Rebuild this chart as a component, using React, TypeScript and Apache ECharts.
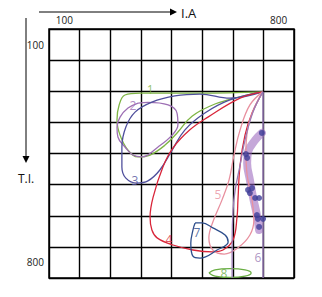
import React, { useEffect, useRef } from "react";
import * as echarts from "echarts";

// Tick labels (shown only at both ends, as in the reference)
const xTickLabels = ["100", "200", "300", "400", "500", "600", "700", "800"];
const yTickLabels = ["100", "200", "300", "400", "500", "600", "700", "800"];
const shownTickIndex = [0, 7];

// Loops, as [I.A, T.I.] points
const loop1 = [[748, 252], [543, 256], [347, 256], [298, 262], [279, 294], [272, 342], [282, 391], [308, 439], [341, 461], [380, 455], [429, 423], [471, 381], [517, 330], [592, 291], [674, 268], [748, 252]];
const loop2 = [[341, 288], [373, 286], [439, 294], [468, 320], [471, 358], [452, 391], [406, 429], [354, 461], [324, 455], [298, 429], [275, 397], [272, 365], [282, 333], [308, 304], [341, 288]];
const loop3 = [[748, 252], [641, 272], [543, 259], [461, 265], [386, 285], [331, 317], [301, 365], [288, 429], [288, 493], [301, 529], [337, 545], [373, 538], [412, 503], [452, 439], [494, 374], [559, 320], [641, 278], [748, 252]];
const loop4 = [[748, 252], [674, 272], [569, 333], [510, 374], [455, 432], [422, 493], [390, 590], [380, 654], [386, 696], [403, 721], [455, 744], [520, 760], [585, 766], [618, 760], [651, 728], [664, 654], [667, 599], [674, 487], [690, 391], [713, 320], [748, 252]];
const loop5 = [[748, 252], [706, 294], [674, 374], [654, 455], [638, 535], [615, 599], [585, 670], [572, 721], [585, 760], [622, 773], [667, 753], [706, 712], [719, 664], [713, 599], [697, 519], [693, 439], [706, 342], [748, 252]];
const edge6Left = [[748, 252], [716, 317], [690, 407], [674, 487], [658, 567], [651, 632], [648, 728], [648, 850]];
const edge6Right = [[749, 252], [749, 850]];
const band6 = [[745, 384], [723, 407], [700, 445], [697, 481], [706, 535], [716, 590], [729, 648], [736, 696]];
const dots6 = [[745, 384], [693, 452], [697, 464], [700, 567], [713, 561], [706, 577], [723, 593], [736, 593], [729, 648], [732, 660], [749, 660], [736, 686]];
const loop7 = [[527, 673], [550, 673], [585, 689], [625, 712], [635, 734], [599, 760], [543, 786], [520, 780], [513, 738], [520, 696], [527, 673]];
const loop8 = [[572, 834], [592, 824], [641, 820], [690, 824], [710, 834], [690, 844], [641, 848], [592, 844], [572, 834]];

const loopNames = ["1", "2", "3", "4", "5", "6", "7", "8"];
const labelPositions = [[380, 243], [324, 297], [331, 538], [442, 725], [602, 583], [732, 783], [533, 705], [621, 834]];
const loopColors = ["#7fb545", "#9d6fb4", "#4f4f9c", "#d9263a", "#e8909f", "#9a7bb5", "#2d4e8c", "#6aae44"];

export default function App() {
  const ref = useRef<HTMLDivElement>(null);
  useEffect(() => {
    if (!ref.current) return;
    const chart = echarts.init(ref.current, undefined, { renderer: "svg" });
    const font = "'Open Sans', sans-serif";
    const lineSeries = (data: number[][], color: string, width = 1.3, smooth: number | boolean = 0.4) => ({
      type: "line",
      data,
      smooth,
      showSymbol: false,
      symbol: "none",
      lineStyle: { color, width },
      silent: true,
      z: 3,
    });
    const loops = [loop1, loop2, loop3, loop4, loop5, null, loop7, loop8];
    const series: any[] = [];
    loops.forEach((d, i) => {
      if (d) series.push(lineSeries(d, loopColors[i]));
    });
    series.push({
      type: "line",
      data: band6,
      smooth: 0.4,
      symbol: "none",
      lineStyle: { color: "rgba(150,95,185,0.55)", width: 8, cap: "round", join: "round" },
      z: 2,
    });
    series.push(lineSeries(edge6Left, "#9a7bb5", 1.3));
    series.push(lineSeries(edge6Right, "#8f72ad", 1.5, false));
    series.push({
      type: "scatter",
      data: dots6,
      symbolSize: 6,
      itemStyle: { color: "#3f3f99" },
      z: 4,
    });
    series.push({
      type: "scatter",
      data: labelPositions.map((p, i) => ({ value: p, name: loopNames[i] })),
      symbolSize: 0,
      z: 5,
      label: {
        show: true,
        position: "inside",
        formatter: (p: any) => p.name,
        fontFamily: font,
        fontSize: 12,
        color: (p: any) => loopColors[p.dataIndex],
      },
    });
    // label colours per item
    series[series.length - 1].data = labelPositions.map((p, i) => ({
      value: p,
      name: loopNames[i],
      label: { color: loopColors[i] },
    }));

    chart.setOption({
      animation: false,
      grid: { left: 49, top: 29, right: 28, bottom: 19, show: true, borderColor: "#000", borderWidth: 1.5 },
      xAxis: [
        {
          type: "value",
          min: 50,
          max: 850,
          interval: 100,
          position: "top",
          axisLine: { show: false },
          axisTick: { show: false },
          axisLabel: { show: false },
          splitLine: { show: true, lineStyle: { color: "#000", width: 1.4 } },
        },
        {
          type: "category",
          data: xTickLabels,
          position: "top",
          axisLine: { show: false },
          axisTick: { show: false },
          splitLine: { show: false },
          axisLabel: {
            interval: (i: number) => shownTickIndex.includes(i),
            margin: 4,
            fontFamily: font,
            fontSize: 10,
            color: "#222",
          },
        },
      ],
      yAxis: [
        {
          type: "value",
          inverse: true,
          min: 50,
          max: 850,
          interval: 100,
          axisLine: { show: false },
          axisTick: { show: false },
          axisLabel: { show: false },
          splitLine: { show: true, lineStyle: { color: "#000", width: 1.4 } },
        },
        {
          type: "category",
          inverse: true,
          data: yTickLabels,
          position: "left",
          axisLine: { show: false },
          axisTick: { show: false },
          splitLine: { show: false },
          axisLabel: {
            interval: (i: number) => shownTickIndex.includes(i),
            margin: 5,
            fontFamily: font,
            fontSize: 10,
            color: "#222",
          },
        },
      ],
      series,
      graphic: [
        { type: "line", shape: { x1: 39, y1: 12, x2: 171, y2: 12 }, style: { stroke: "#000", lineWidth: 1 } },
        { type: "polygon", shape: { points: [[170, 8.5], [177, 12], [170, 15.5]] }, style: { fill: "#000" } },
        { type: "text", x: 181, y: 13, style: { text: "I.A", font: `13px ${font}`, fill: "#111", verticalAlign: "middle" } },
        { type: "line", shape: { x1: 26, y1: 18, x2: 26, y2: 157 }, style: { stroke: "#000", lineWidth: 1 } },
        { type: "polygon", shape: { points: [[22.5, 156], [26, 163], [29.5, 156]] }, style: { fill: "#000" } },
        { type: "text", x: 18, y: 178, style: { text: "T.I.", font: `12px ${font}`, fill: "#111", verticalAlign: "middle" } },
      ],
    });
    return () => chart.dispose();
  }, []);
  return <div ref={ref} style={{ position: "fixed", left: 0, top: 0, width: 322, height: 297, background: "#fff" }} />;
}
